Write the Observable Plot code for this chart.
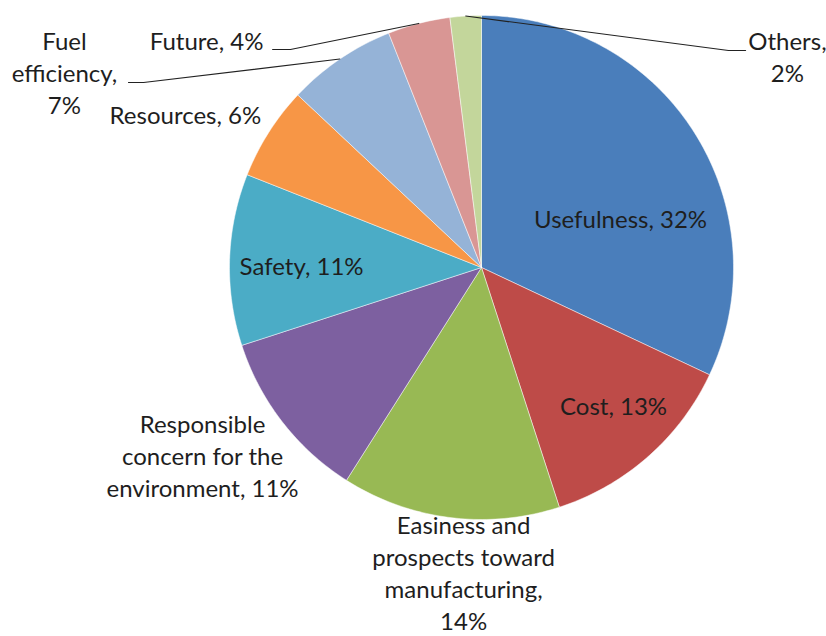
<!DOCTYPE html>
<html>
<head>
<meta charset="utf-8">
<script src="https://cdn.jsdelivr.net/npm/d3@7"></script>
<script src="https://cdn.jsdelivr.net/npm/@observablehq/plot@0.6"></script>
<style>
  html, body { margin: 0; padding: 0; background: #ffffff; }
  #chart { width: 826px; height: 636px; }
</style>
</head>
<body>
<div id="chart"></div>
<script>
// ---- data ----
const categories = ["Usefulness", "Cost", "Easiness and prospects toward manufacturing",
  "Responsible concern for the environment", "Safety", "Resources", "Fuel efficiency", "Future", "Others"];
const shares = [32, 13, 14, 11, 11, 6, 7, 4, 2];
const labelTexts = ["Usefulness, 32%", "Cost, 13%", "Easiness and\nprospects toward\nmanufacturing,\n14%",
  "Responsible\nconcern for the\nenvironment, 11%", "Safety, 11%", "Resources, 6%",
  "Fuel\nefficiency,\n7%", "Future, 4%", "Others,\n2%"];

// ---- styles / layout ----
const sliceColors = ["#4A7EBB", "#BE4B48", "#98B954", "#7D60A0", "#4BACC6", "#F79646", "#95B3D7", "#D99694", "#C3D69B"];
// label centres in pie-radius units (relative to pie centre)
const labelPos = [[0.552, 0.187], [0.524, -0.556], [-0.071, -1.220], [-1.107, -0.754], [-0.714, 0.0],
  [-1.175, 0.599], [-1.655, 0.766], [-1.091, 0.893], [1.214, 0.827]];
// leader line elbows (bend x, end x, y) for the outside labels that have leaders
const leaderBends = {6: [-1.341, -1.401, 0.734], 7: [-0.758, -0.829, 0.865], 8: [0.980, 1.048, 0.861]};

const W = 826, H = 636, CX = 481, CY = 267, R = 252;

// ---- geometry from data ----
const pie = d3.pie().sort(null).value(d => d)(shares);
const slicePoints = [];
pie.forEach((p, i) => {
  const n = Math.max(2, Math.ceil((p.endAngle - p.startAngle) / (Math.PI / 180)));
  slicePoints.push({name: categories[i], color: sliceColors[i], x: 0, y: 0});
  for (let k = 0; k <= n; k++) {
    const a = p.startAngle + (p.endAngle - p.startAngle) * k / n;
    slicePoints.push({name: categories[i], color: sliceColors[i], x: Math.sin(a), y: Math.cos(a)});
  }
  slicePoints.push({name: categories[i], color: sliceColors[i], x: 0, y: 0});
});

const labels = labelTexts.map((t, i) => ({text: t, x: labelPos[i][0], y: labelPos[i][1]}));

const leaders = [];
Object.entries(leaderBends).forEach(([k, b]) => {
  const p = pie[+k];
  const a = (p.startAngle + p.endAngle) / 2;
  leaders.push({id: k, x: Math.sin(a), y: Math.cos(a)});
  leaders.push({id: k, x: b[0], y: b[2]});
  leaders.push({id: k, x: b[1], y: b[2]});
});

const chart = Plot.plot({
  width: W, height: H,
  margin: 0,
  style: {fontFamily: "Lato, 'Open Sans', sans-serif", background: "#ffffff"},
  x: {domain: [-1, 1], range: [CX - R, CX + R], axis: null},
  y: {domain: [-1, 1], range: [CY + R, CY - R], axis: null},
  color: {type: "identity"},
  marks: [
    Plot.line(slicePoints, {x: "x", y: "y", z: "name", fill: "color", stroke: "#ffffff", strokeWidth: 0.6, strokeOpacity: 0.8}),
    Plot.line(leaders, {x: "x", y: "y", z: "id", stroke: "#222222", strokeWidth: 1.1}),
    Plot.text(labels, {x: "x", y: "y", text: "text", fontSize: 24, lineHeight: 1.34, dy: -3, fill: "#1e1e1e", textAnchor: "middle", lineAnchor: "middle"})
  ]
});
document.getElementById("chart").appendChild(chart);
</script>
</body>
</html>
